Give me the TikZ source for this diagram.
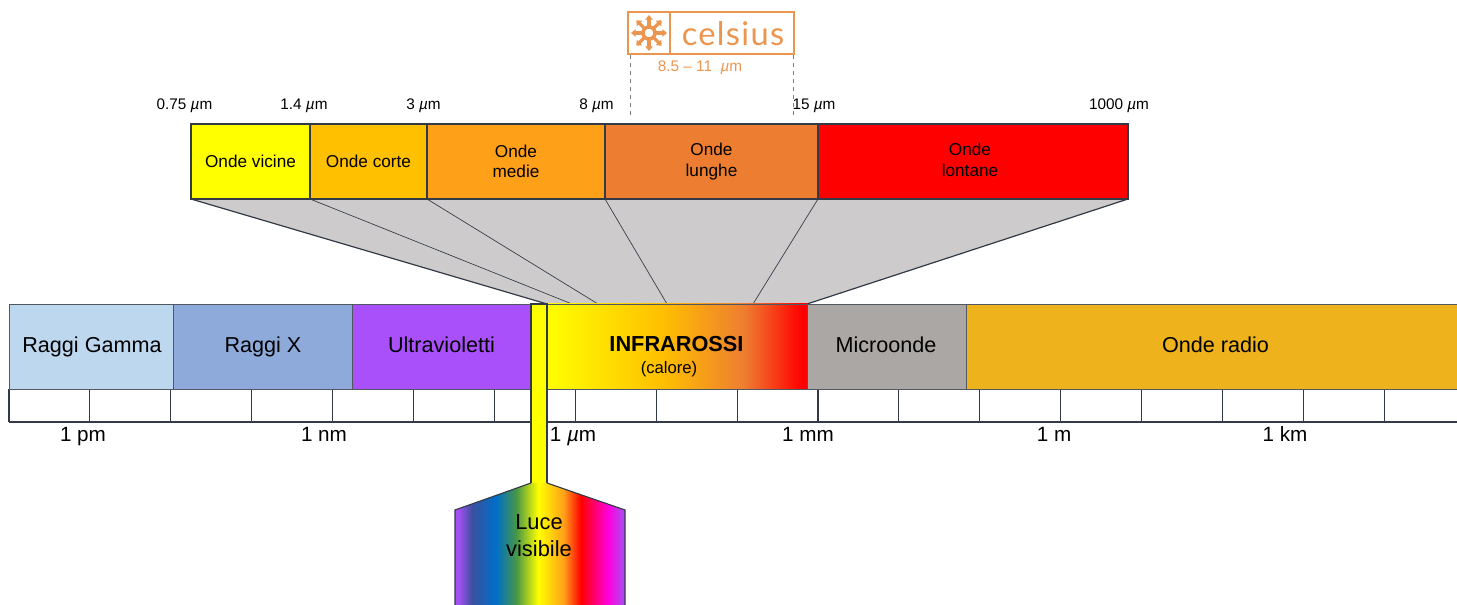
\documentclass[tikz,border=0pt]{standalone}
\usepackage{fontspec}
\usepackage{xcolor}
\setmainfont{Liberation Sans}
\newfontfamily\celsiusfont[LetterSpace=4]{Lato}
\definecolor{Edge}{RGB}{50, 58, 70}
\definecolor{Fan}{RGB}{205, 203, 203}
\definecolor{Gamma}{RGB}{189, 215, 238}
\definecolor{RayX}{RGB}{142, 170, 219}
\definecolor{Ultra}{RGB}{170, 80, 250}
\definecolor{Micro}{RGB}{171, 167, 165}
\definecolor{Radio}{RGB}{237, 178, 28}
\definecolor{Vicine}{RGB}{255, 255, 0}
\definecolor{Corte}{RGB}{255, 192, 0}
\definecolor{Medie}{RGB}{255, 160, 25}
\definecolor{Lunghe}{RGB}{237, 125, 49}
\definecolor{Lontane}{RGB}{255, 0, 0}
\definecolor{Celsius}{RGB}{235, 150, 80}
\pgfdeclarehorizontalshading{infrared}{100bp}{
  color(0bp)=(Vicine); color(25bp)=(Vicine);
  color(47bp)=(Corte); color(63bp)=(Lunghe);
  color(74bp)=(Lontane); color(100bp)=(Lontane)}
\definecolor{BowA}{RGB}{165, 80, 245}
\definecolor{BowB}{RGB}{60, 80, 160}
\definecolor{BowC}{RGB}{0, 110, 200}
\definecolor{BowD}{RGB}{70, 150, 70}
\definecolor{BowE}{RGB}{255, 160, 25}
\definecolor{BowF}{RGB}{255, 0, 220}
\pgfdeclarehorizontalshading{rainbow}{100bp}{
  color(0bp)=(BowA); color(26bp)=(BowA);
  color(30bp)=(BowB); color(37bp)=(BowC);
  color(43bp)=(BowD); color(49.5bp)=(Vicine);
  color(57bp)=(BowE); color(62bp)=(Lontane);
  color(70bp)=(BowF); color(75bp)=(BowA); color(100bp)=(BowA)}
\newcommand{\um}{\textit{µ}m}
\tikzset{
  band/.style={draw=Edge, line width=0.85pt},
  spectrum/.style={draw=Edge!85, line width=0.6pt},
  scale label/.style={font=\fontsize{11.5}{13}\selectfont},
  ruler label/.style={font=\fontsize{15.5}{17}\selectfont, anchor=base},
  wide label/.style={font=\fontsize{16.2}{18}\selectfont, anchor=base},
  small label/.style={font=\fontsize{12.9}{15.5}\selectfont, align=center}
}

\begin{document}
\begin{tikzpicture}[x=0.75pt, y=-0.75pt]
    \useasboundingbox (0, 0) rectangle (1457, 605);

    % Grey fan between the two bands
    \fill[Fan] (191, 199) -- (1128, 199) -- (807, 304) -- (547, 304) -- cycle;
    \foreach \a/\b/\w [count=\i] in {191/547/0.9, 310/572/0.5, 427/598/0.5, 605/667/0.5, 818/753/0.5, 1128/807/0.9} {
        \coordinate (fantop\i) at (\a, 199);
        \coordinate (fanbot\i) at (\b, 304);
        \draw[Edge, line width=\w pt] (fantop\i) -- (fanbot\i);
    }

    % Infrared detail band
    \draw[band, fill=Vicine] (191, 124) rectangle (310, 199);
    \node[small label] (vicine) at (250.5, 161.5) {Onde vicine};
    \draw[band, fill=Corte] (310, 124) rectangle (427, 199);
    \node[small label] (corte) at (368.5, 161.5) {Onde corte};
    \draw[band, fill=Medie] (427, 124) rectangle (605, 199);
    \node[small label] (medie) at (516, 161.5) {Onde\\medie};
    \draw[band, fill=Lunghe] (605, 124) rectangle (818, 199);
    \node[small label] (lunghe) at (711.5, 161.5) {Onde\\lunghe};
    \draw[band, fill=Lontane] (818, 124) rectangle (1128, 199);
    \node[small label] (lontane) at (970, 160) {Onde\\lontane};

    % Wavelengths above the band
    \node[scale label] (wla) at (184.5, 105.5) {0.75 \um};
    \node[scale label] (wlb) at (304, 105.5) {1.4 \um};
    \node[scale label] (wlc) at (423.5, 105.5) {3 \um};
    \node[scale label] (wld) at (596.5, 105.5) {8 \um};
    \node[scale label] (wle) at (814, 105.5) {15 \um};
    \node[scale label] (wlf) at (1119, 105.5) {1000 \um};

    % Camera logo
    \draw[Celsius, line width=1pt] (628, 12) rectangle (794, 54);
    \draw[Celsius, line width=1pt] (670, 12) -- (670, 54);
    \draw[Celsius, line width=2.6pt] (649, 33) circle (6);
    \foreach \r in {0, 45, ..., 315} {
        \draw[Celsius, line width=2.4pt] (649, 33) ++(\r:7) -- ++(\r:8);
        \fill[Celsius] (649, 33) ++(\r:18) -- ++(\r+140:6) -- ++(\r-90:7.7) -- cycle;
    }
    \node[text=Celsius, font=\fontsize{24.5}{26}\celsiusfont] (logo) at (733, 34) {celsius};
    \node[text=Celsius, scale label] (range) at (700, 67.5) {8.5 -- 11 ~\um};
    \coordinate (dashleft) at (630, 55);
    \coordinate (dashright) at (793, 55);
    \coordinate (dashleftend) at (630, 119);
    \coordinate (dashrightend) at (793, 119);
    \draw[gray, dashed] (dashleft) -- (dashleftend);
    \draw[gray, dashed] (dashright) -- (dashrightend);

    % Ruler
    \draw[Edge, line width=0.8pt] (9, 389) -- (1457, 389);
    \draw[Edge, line width=0.8pt] (9, 422) -- (1457, 422);
    \foreach \t in {0, 1, ..., 17} {
        \draw[Edge, line width=0.8pt] (9 + 80.9*\t, 389) -- (9 + 80.9*\t, 422);
    }
    \node[ruler label] (pm) at (83, 441.5) {1 pm};
    \node[ruler label] (nm) at (324, 441.5) {1 nm};
    \node[ruler label] (um) at (573, 441.5) {1 \um};
    \node[ruler label] (mm) at (808, 441.5) {1 mm};
    \node[ruler label] (m) at (1054, 441.5) {1 m};
    \node[ruler label] (km) at (1285, 441.5) {1 km};

    % Main spectrum
    \draw[spectrum, fill=Gamma] (9, 304) rectangle (173, 389);
    \node[wide label] (gamma) at (92, 353) {Raggi Gamma};
    \draw[spectrum, fill=RayX] (173, 304) rectangle (352, 389);
    \node[wide label] (raggix) at (263, 353) {Raggi X};
    \draw[spectrum, fill=Ultra] (352, 304) rectangle (531, 389);
    \node[wide label] (ultra) at (441.5, 353) {Ultravioletti};
    \draw[spectrum, shading=infrared] (547, 304) rectangle (807, 389);
    \node[font=\fontsize{16.3}{18}\selectfont\bfseries, anchor=base] (infra) at (676.5, 352) {INFRAROSSI};
    \node[font=\fontsize{12.5}{14}\selectfont] (calore) at (669, 369) {(calore)};
    \draw[spectrum, fill=Micro] (807, 304) rectangle (966, 389);
    \node[wide label] (microonde) at (886, 353) {Microonde};
    \draw[spectrum, fill=Radio] (966, 304) rectangle (1470, 389);
    \node[wide label] (radio) at (1215.5, 353) {Onde radio};

    % Visible light
    \fill[Vicine] (531, 304) rectangle (547, 484);
    \draw[band] (531, 483) -- (531, 304) -- (547, 304) -- (547, 483);
    \shade[shading=rainbow] (455, 620) -- (455, 510) -- (531, 483) -- (547, 483) -- (625, 510) -- (625, 620) -- cycle;
    \draw[band] (455, 620) -- (455, 510) -- (531, 483);
    \draw[band] (547, 483) -- (625, 510) -- (625, 620);
    \node[font=\fontsize{16.4}{20.2}\selectfont, align=center] (luce) at (539, 536) {Luce\\visibile};
\end{tikzpicture}
\end{document}
